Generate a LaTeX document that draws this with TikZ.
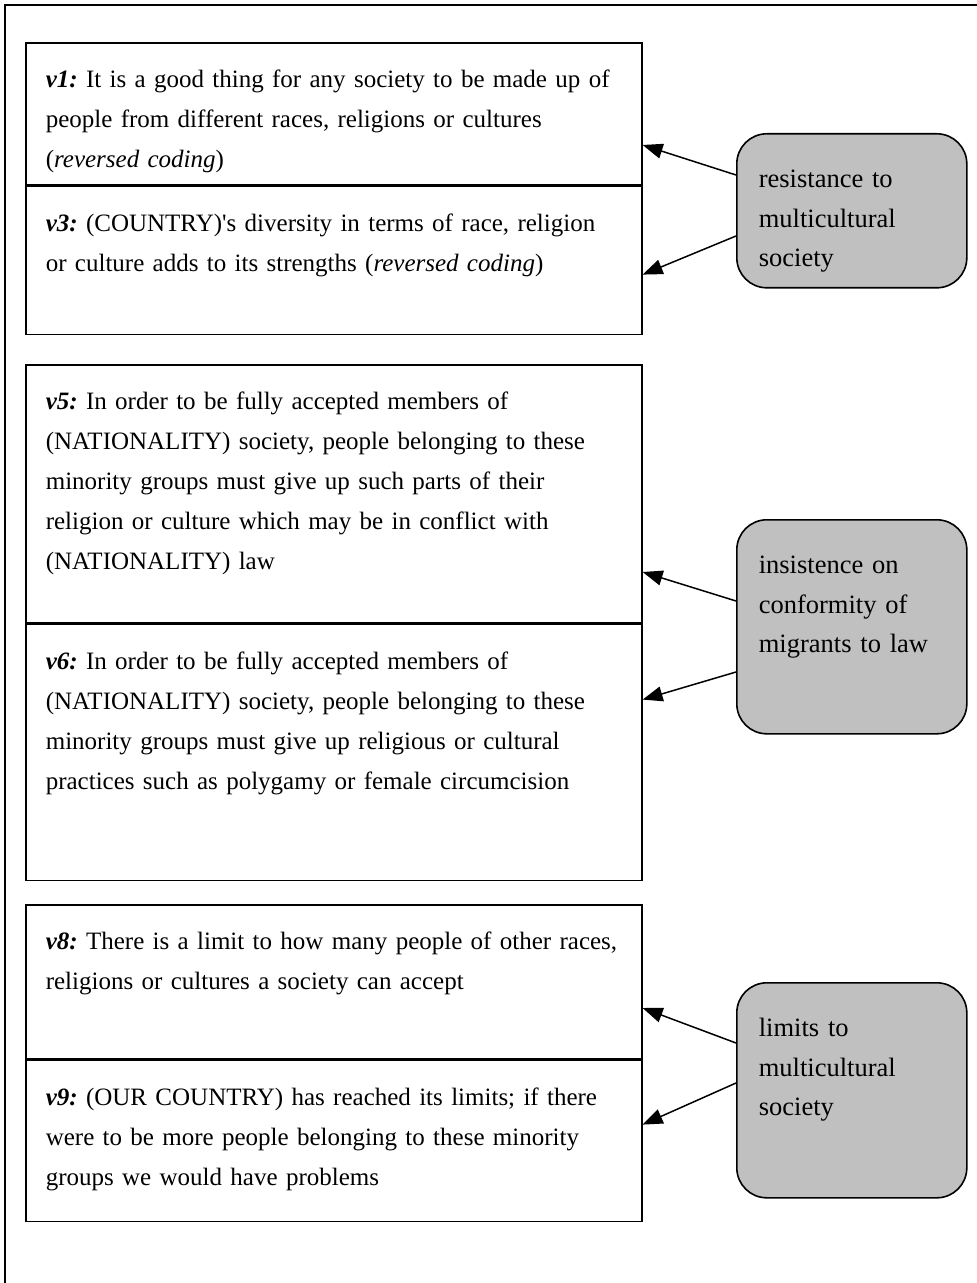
\documentclass[tikz,border=0pt]{standalone}
\usepackage{fontspec}
\setmainfont{Liberation Serif}
\usepackage{tikz}
\usetikzlibrary{positioning, arrows.meta, calc}
\definecolor{boxgray}{RGB}{192, 192, 192}
\newcommand{\vlab}[1]{\textbf{\textit{#1}}}

\begin{document}
\begin{tikzpicture}[x=0.5pt, y=-0.5pt,
  itembox/.style={draw, line width=0.8pt, anchor=north west, align=left,
        text width=288pt, inner xsep=10pt, inner ysep=0pt, text height=22.5pt,
        font=\fontsize{12.5}{20}\selectfont\frenchspacing},
  factorbox/.style={draw, line width=0.8pt, fill=boxgray, rounded corners=15pt,
        anchor=north west, align=left, text width=93pt, inner xsep=11pt,
        inner ysep=0pt, text height=27pt, font=\fontsize{13.25}{19.75}\selectfont},
  loading/.style={line width=0.75pt, -{Triangle[length=10pt, width=7.5pt]}}]
  \useasboundingbox (0,0) rectangle (976,1283);
  \draw[line width=0.8pt] (5,1300) -- (5,5) -- (990,5);

  \node[itembox, text depth=48.5pt] (v1) at (25,42) {
    \vlab{v1:} It is a good thing for any society to be made up of\\
    people from different races, religions or cultures\\
    (\textit{reversed coding})};
  \node[itembox, text depth=51.5pt, below=0pt of v1] (v3) {
    \vlab{v3:} (COUNTRY)\textquotesingle s diversity in terms of race, religion\\
    or culture adds to its strengths (\textit{reversed coding})};

  \node[itembox, text depth=106.5pt] (v5) at (25,364) {
    \vlab{v5:} In order to be fully accepted members of\\
    (NATIONALITY) society, people belonging to these\\
    minority groups must give up such parts of their\\
    religion or culture which may be in conflict with\\
    (NATIONALITY) law};
  \node[itembox, text depth=105.5pt, below=0pt of v5] (v6) {
    \vlab{v6:} In order to be fully accepted members of\\
    (NATIONALITY) society, people belonging to these\\
    minority groups must give up religious or cultural\\
    practices such as polygamy or female circumcision};

  \node[itembox, text depth=54.5pt] (v8) at (25,904) {
    \vlab{v8:} There is a limit to how many people of other races,\\
    religions or cultures a society can accept};
  \node[itembox, text depth=58pt, below=0pt of v8] (v9) {
    \vlab{v9:} (OUR COUNTRY) has reached its limits; if there\\
    were to be more people belonging to these minority\\
    groups we would have problems};

  \node[factorbox, text depth=50pt] (resist) at (736,133) {
    resistance to\\ multicultural\\ society};
  \node[factorbox, text depth=80pt] (insist) at (736,519) {
    insistence on\\ conformity of\\ migrants to law};
  \node[factorbox, text depth=80.5pt] (limits) at (736,982) {
    limits to\\ multicultural\\ society};

  \draw[loading] ($(resist.north west)+(0,42)$) -- ($(v1.north east)+(0,103)$);
  \draw[loading] ($(resist.north west)+(0,103)$) -- ($(v3.north east)+(0,89)$);
  \draw[loading] ($(insist.north west)+(0,82)$) -- ($(v5.north east)+(0,208)$);
  \draw[loading] ($(insist.north west)+(0,153)$) -- ($(v6.north east)+(0,76)$);
  \draw[loading] ($(limits.north west)+(0,61)$) -- ($(v8.north east)+(0,104)$);
  \draw[loading] ($(limits.north west)+(0,101)$) -- ($(v9.north east)+(0,65)$);
\end{tikzpicture}
\end{document}
